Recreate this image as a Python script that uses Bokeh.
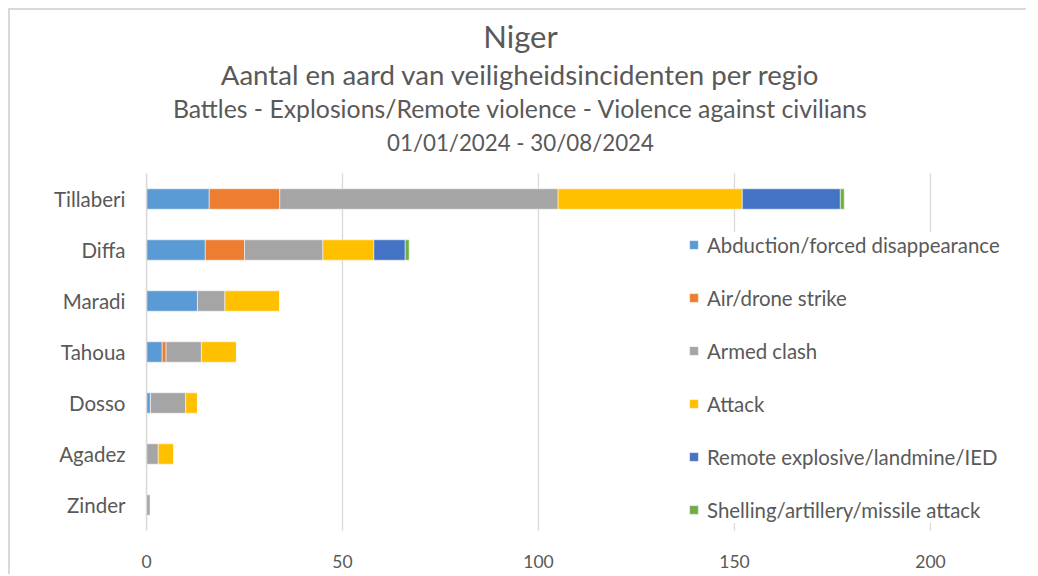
from bokeh.plotting import figure
from bokeh.models import FixedTicker, Label, Legend, Range1d
from bokeh.embed import file_html
from bokeh.resources import INLINE

regions = ["Tillaberi", "Diffa", "Maradi", "Tahoua", "Dosso", "Agadez", "Zinder"]
series_names = ["Abduction/forced disappearance", "Air/drone strike", "Armed clash",
                "Attack", "Remote explosive/landmine/IED", "Shelling/artillery/missile attack"]
abduction = [16, 15, 13, 4, 1, 0, 0]
air_strike = [18, 10, 0, 1, 0, 0, 0]
armed_clash = [71, 20, 7, 9, 9, 3, 1]
attack = [47, 13, 14, 9, 3, 4, 0]
remote_explosive = [25, 8, 0, 0, 0, 0, 0]
shelling = [1, 1, 0, 0, 0, 0, 0]
x_ticks = [0, 50, 100, 150, 200]
title_lines = ["Niger",
               "Aantal en aard van veiligheidsincidenten per regio",
               "Battles - Explosions/Remote violence - Violence against civilians",
               "01/01/2024 - 30/08/2024"]

colors = ["#5B9BD5", "#ED7D31", "#A5A5A5", "#FFC000", "#4472C4", "#70AD47"]
keys = ["abduction", "air", "armed", "attack", "remote", "shelling"]
ypos = list(range(len(regions)))
data = dict(y=ypos, abduction=abduction, air=air_strike, armed=armed_clash,
            attack=attack, remote=remote_explosive, shelling=shelling)

TXT = "#595959"
FONT = "Lato"

W, H = 1028, 566
ML, MB = 136, 44
frame_w, frame_h = W - ML, H - MB
px_per_unit = 784 / 200          # 200 units span 784 px
px_per_cat = 51
x_end = frame_w / px_per_unit
y_lo, y_hi = -0.5, len(regions) - 0.5
y_start = y_hi + 2 / px_per_cat

p = figure(x_range=Range1d(0, x_end), y_range=Range1d(y_start, y_start - frame_h / px_per_cat),
           width=W, height=H, output_backend="svg", toolbar_location=None,
           min_border_left=ML, min_border_right=0, min_border_top=0, min_border_bottom=MB)
p.styles = {"box-shadow": "-2px -2px 0 0 #d9d9d9",
            "clip-path": "polygon(-2px -2px, calc(100% - 12px) -2px, calc(100% - 12px) 100%, -2px 100%)",
            "margin-left": "10px", "margin-top": "10px"}
p.outline_line_color = None
p.xgrid.grid_line_color = None
p.ygrid.grid_line_color = None

# value gridlines limited to the category area
p.segment(x0=x_ticks, x1=x_ticks, y0=[y_lo] * len(x_ticks), y1=[y_hi] * len(x_ticks),
          line_color="#d9d9d9", line_width=1.3)

renderers = p.hbar_stack(keys, y="y", height=0.4, color=colors, source=data,
                         line_color="white", line_width=0.5)

p.xaxis.ticker = FixedTicker(ticks=x_ticks)
p.xaxis.axis_line_color = None
p.xaxis.major_tick_line_color = None
p.xaxis.minor_tick_line_color = None
p.xaxis.major_label_standoff = 16
p.xaxis.major_label_text_font = FONT
p.xaxis.major_label_text_font_size = "17.5px"
p.xaxis.major_label_text_color = TXT

p.yaxis.ticker = FixedTicker(ticks=ypos)
p.yaxis.major_label_overrides = {i: r for i, r in zip(ypos, regions)}
p.yaxis.bounds = (y_lo, y_hi)
p.yaxis.axis_line_color = "#d9d9d9"
p.yaxis.axis_line_width = 1.5
p.yaxis.major_tick_line_color = None
p.yaxis.minor_tick_line_color = None
p.yaxis.major_label_standoff = 15
p.yaxis.major_label_text_font = FONT
p.yaxis.major_label_text_font_size = "20.5px"
p.yaxis.major_label_text_color = TXT

legend = Legend(items=[(n, [r]) for n, r in zip(series_names, renderers)],
                location=(542, 9.5), margin=0, padding=12, spacing=27,
                label_height=26, glyph_width=11, glyph_height=11, label_standoff=8,
                label_text_font=FONT, label_text_font_size="20.4px", label_text_color=TXT,
                background_fill_color="white", background_fill_alpha=1.0,
                border_line_color=None)
p.add_layout(legend, "center")

title_y = [497, 458.5, 424.5, 390.5]
title_sizes = ["31px", "27.6px", "24.8px", "22.3px"]
for t, yy, fs in zip(title_lines, title_y, title_sizes):
    p.add_layout(Label(x=374, y=yy, x_units="screen", y_units="screen", text=t,
                       text_align="center", text_baseline="middle", text_font=FONT,
                       text_font_size=fs, text_color=TXT))

open("out.html", "w").write(file_html(p, INLINE))
